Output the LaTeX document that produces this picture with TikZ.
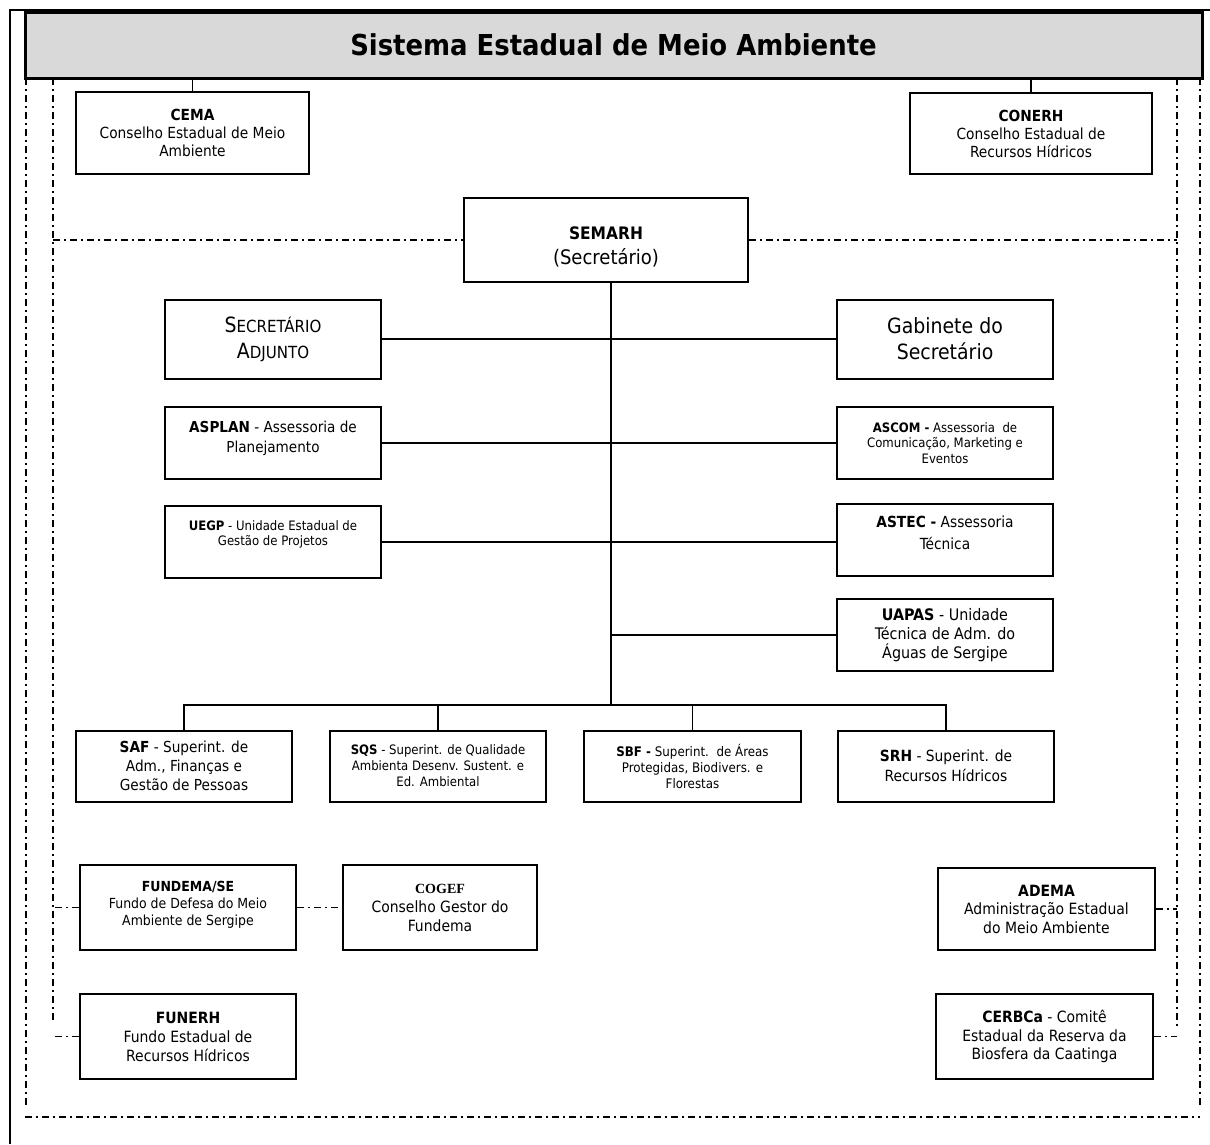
\documentclass[tikz,border=0pt]{standalone}
\usepackage{fontspec}
\setmainfont{DejaVu Sans Condensed}
\newfontfamily\cogeffont{Liberation Serif}
\newcommand{\fsz}[2]{\fontsize{#1}{#2}\selectfont}
\newcommand{\scword}[2]{{\fsz{21}{26}#1}{\fsz{16.7}{26}#2}}
\begin{document}
\begin{tikzpicture}[x=1pt,y=-1pt,
  orgbox/.style 2 args={draw,line width=2pt,align=center,inner sep=1pt,minimum width=#1pt,minimum height=#2pt},
  link/.style={line width=1.8pt},
  sysline/.style={line width=1.8pt,dash pattern=on 7pt off 4pt on 2pt off 4pt}]
\useasboundingbox (0,0) rectangle (1210,1144);
\draw[line width=2.5pt] (10,1144) -- (10,10) -- (1210,10);
\node[orgbox={1177}{66}, line width=3pt, fill=black!15, font=\fsz{28.8}{32}\bfseries] (sys) at (613.5,45) {Sistema Estadual de Meio Ambiente};
\node[orgbox={233}{82}, font=\fsz{15.3}{18}] (cema) at (192.5,133) {\textbf{CEMA}\\Conselho Estadual de Meio\\Ambiente};
\node[orgbox={242}{81}, font=\fsz{15.3}{18}] (conerh) at (1031,133.5) {\textbf{CONERH}\\Conselho Estadual de\\Recursos Hídricos};
\node[orgbox={284}{84}, font=\fsz{20}{25}] (semarh) at (606,240) {\rule{0pt}{26pt}{\fsz{17.2}{25}\textbf{SEMARH}}\\(Secretário)};
\node[orgbox={216}{79}, font=\fsz{21}{26}] (sadj) at (273,339) {\scword{S}{ECRETÁRIO}\\\scword{A}{DJUNTO}};
\node[orgbox={216}{79}, font=\fsz{21}{26}] (gab) at (945,339) {Gabinete do\\Secretário};
\node[orgbox={216}{72}, font=\fsz{15.1}{20}] (asplan) at (273,443) {\textbf{ASPLAN} - Assessoria de\\Planejamento\\[-8pt]\mbox{}};
\node[orgbox={216}{72}, font=\fsz{13}{15.5}] (ascom) at (945,443) {\textbf{ASCOM -} Assessoria\ \ de\\Comunicação, Marketing e\\Eventos};
\node[orgbox={216}{72}, font=\fsz{13}{15}] (uegp) at (273,542) {\textbf{UEGP} - Unidade Estadual de\\Gestão de Projetos\\[3pt]\mbox{}};
\node[orgbox={216}{72}, font=\fsz{15.3}{22}] (astec) at (945,540) {\textbf{ASTEC -} Assessoria\\Técnica\\[-8pt]\mbox{}};
\node[orgbox={216}{72}, font=\fsz{15.9}{19}] (uapas) at (945,635) {\textbf{UAPAS} - Unidade\\Técnica de Adm. do\\Águas de Sergipe};
\node[orgbox={216}{71}, font=\fsz{15.2}{19}] (saf) at (184,766) {\textbf{SAF} - Superint. de\\Adm., Finanças e\\Gestão de Pessoas};
\node[orgbox={216}{71}, font=\fsz{13}{16}] (sqs) at (438,766) {\textbf{SQS} - Superint. de Qualidade\\Ambienta Desenv. Sustent. e\\Ed. Ambiental};
\node[orgbox={217}{71}, font=\fsz{13.2}{16}] (sbf) at (692.5,766) {\textbf{SBF -} Superint.\ \ de Áreas\\Protegidas, Biodivers. e\\Florestas};
\node[orgbox={216}{71}, font=\fsz{15.4}{20}] (srh) at (946,766) {\textbf{SRH} - Superint. de\\Recursos Hídricos};
\node[orgbox={216}{85}, font=\fsz{13.9}{17}] (fundema) at (188,907.5) {\textbf{FUNDEMA/SE}\\Fundo de Defesa do Meio\\Ambiente de Sergipe\\[-8pt]\mbox{}};
\node[orgbox={194}{85}, font=\fsz{15.5}{19}] (cogef) at (440,907.5) {{\cogeffont\bfseries\fsz{14}{19}COGEF}\\Conselho Gestor do\\Fundema};
\node[orgbox={216}{85}, font=\fsz{15.5}{19}] (funerh) at (188,1036.5) {\textbf{FUNERH}\\Fundo Estadual de\\Recursos Hídricos};
\node[orgbox={217}{82}, font=\fsz{15.5}{18.5}] (adema) at (1046.5,909) {\textbf{ADEMA}\\Administração Estadual\\do Meio Ambiente};
\node[orgbox={217}{85}, font=\fsz{15.5}{18.5}] (cerbca) at (1044.5,1036.5) {\textbf{CERBCa} - Comitê\\Estadual da Reserva da\\Biosfera da Caatinga};
\coordinate (bus) at (611,705);
\coordinate (innerL) at (53,78);
\coordinate (innerR) at (1177,78);
\draw[link] (cema.north) -- (cema.north |- sys.south);
\draw[link] (conerh.north) -- (conerh.north |- sys.south);
\draw[link] (semarh.south -| bus) -- (bus);
\draw[link] (sadj.east) -- (gab.west);
\draw[link] (asplan.east) -- (ascom.west);
\draw[link] (uegp.east) -- (uegp.east -| astec.west);
\draw[link] (uapas.west) -- (uapas.west -| bus);
\draw[link] (saf.north) |- (bus) -| (srh.north);
\draw[link] (sqs.north) -- (sqs.north |- bus);
\draw[link] (sbf.north) -- (sbf.north |- bus);
\draw[sysline] (innerL) -- (53,1023);
\draw[sysline] (innerL |- semarh.west) -- (semarh.west);
\draw[sysline] (semarh.east) -- (innerR |- semarh.east);
\draw[sysline] (innerR) -- (1177,1027);
\draw[sysline] (fundema.west) -- (fundema.west -| innerL);
\draw[sysline] (funerh.west) -- (funerh.west -| innerL);
\draw[sysline] (fundema.east) -- (cogef.west);
\draw[sysline] (adema.east) -- (adema.east -| innerR);
\draw[sysline] (cerbca.east) -- (cerbca.east -| innerR);
\draw[sysline] (26,78) -- (26,1105);
\draw[sysline] (1200,78) -- (1200,1107);
\draw[sysline] (25,1117) -- (1200,1117);
\end{tikzpicture}
\end{document}
